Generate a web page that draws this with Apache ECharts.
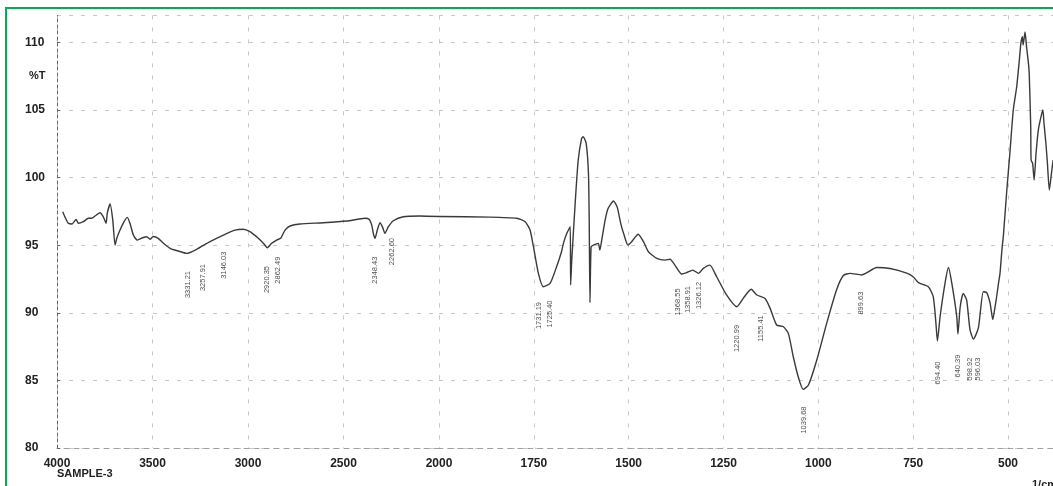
<!DOCTYPE html>
<html>
<head>
<meta charset="utf-8">
<script src="https://cdn.jsdelivr.net/npm/echarts@6/dist/echarts.min.js"></script>
<style>
html,body{margin:0;padding:0;background:#fff;}
#chart{width:1053px;height:486px;}
</style>
</head>
<body>
<div id="chart"></div>
<script>
// ---- Data (wavenumber 1/cm, %T) ----
const spectrumHigh = [[3970,97.48],[3958,97.08],[3941,96.62],[3921,96.57],[3900,96.91],[3888,96.62],[3862,96.74],[3836,96.99],[3818,96.99],[3801,97.16],[3775,97.40],[3758,97.11],[3743,96.62],[3737,97.36],[3722,98.05],[3708,96.86],[3696,95.01],[3687,95.51],[3670,96.12],[3649,96.74],[3632,97.06],[3618,96.62],[3600,95.75],[3580,95.38],[3548,95.57],[3530,95.63],[3513,95.44],[3496,95.64],[3470,95.51],[3443,95.14],[3408,94.77],[3365,94.57],[3321,94.40],[3269,94.70],[3199,95.26],[3129,95.75],[3068,96.12],[3025,96.18],[2990,96.00],[2946,95.51],[2916,95.09],[2899,94.81],[2876,95.14],[2850,95.38],[2829,95.51],[2806,96.12],[2780,96.42],[2728,96.57],[2606,96.66],[2483,96.79],[2387,96.99],[2365,96.91],[2352,96.49],[2344,95.88],[2335,95.51],[2323,96.12],[2309,96.66],[2295,96.32],[2283,95.88],[2265,96.37],[2239,96.81],[2187,97.11],[2100,97.16],[2000,97.12]];

const spectrumLow = [[2000,97.12],[1866,97.08],[1795,96.99],[1773,96.74],[1760,96.12],[1751,94.89],[1738,92.92],[1725,91.93],[1707,92.18],[1690,93.41],[1677,94.52],[1672,95.14],[1663,95.88],[1654,96.37],[1653,92.06],[1650,93.90],[1641,98.10],[1633,101.30],[1624,102.91],[1620,103.02],[1612,102.54],[1606,100.32],[1604,96.86],[1602,90.75],[1599,94.89],[1593,95.01],[1580,95.14],[1576,94.64],[1571,95.38],[1562,96.86],[1554,97.73],[1540,98.27],[1530,97.80],[1521,96.62],[1512,95.75],[1502,95.01],[1492,95.26],[1475,95.81],[1461,95.26],[1448,94.52],[1426,94.03],[1404,93.90],[1391,93.96],[1378,93.53],[1360,92.87],[1347,92.97],[1331,93.16],[1316,92.92],[1303,93.29],[1286,93.53],[1268,92.67],[1242,91.32],[1215,90.45],[1198,91.07],[1177,91.74],[1162,91.32],[1141,91.07],[1127,90.33],[1110,89.10],[1092,88.97],[1079,88.48],[1066,86.75],[1053,85.27],[1040,84.34],[1026,84.66],[1004,86.51],[978,89.22],[952,91.69],[934,92.76],[916,92.92],[886,92.80],[872,92.97],[846,93.35],[811,93.28],[767,92.94],[750,92.67],[736,92.23],[710,91.93],[697,91.19],[690,89.25],[686,87.91],[679,89.71],[666,92.18],[657,93.35],[648,92.18],[635,89.71],[632,88.43],[626,90.43],[618,91.44],[609,90.95],[600,88.73],[591,88.06],[578,88.88],[565,91.56],[556,91.50],[547,90.70],[540,89.50],[534,90.45],[530,91.17],[525,92.18],[521,92.92],[516,94.64],[512,95.75],[503,99.08],[495,101.80],[486,105.00],[477,106.72],[470,108.70],[466,109.93],[462,110.42],[460,109.81],[455,110.77],[451,109.68],[446,108.45],[444,107.71],[440,103.76],[439,101.30],[435,101.06],[431,99.82],[426,101.80],[420,103.52],[413,104.50],[408,105.00],[405,104.01],[400,102.54],[396,101.06],[391,99.08],[385,100.41],[381,101.30]];

// peak annotation texts and where they sit (wavenumber, %T of label centre)
const peakTextsHigh = ['3331.21','3257.91','3146.03','2920.35','2862.49','2348.43','2262.60'];
const peakPosHigh = [[3314,92.09],[3236,92.61],[3126,93.53],[2901,92.46],[2843,93.16],[2335,93.16],[2246,94.53]];
const peakTextsLow = ['1731.19','1725.40','1368.55','1358.91','1326.12','1220.99','1155.41','1039.68','899.63','694.40','640.39','598.92','596.03'];
const peakPosLow = [[1736,89.80],[1707,89.91],[1370,90.80],[1344,90.98],[1315,91.28],[1214,88.10],[1151,88.84],[1038,82.07],[887,90.72],[684,85.55],[632,86.06],[600,85.84],[579,85.84]];

const yTicks = {min: 80, max: 112, interval: 5};
const xHigh = {min: 2000, max: 4000, interval: 500};
const xLow = {min: 250, max: 2000, interval: 250};

// ---- Chart ----
const chart = echarts.init(document.getElementById('chart'), null, {renderer: 'canvas'});
const FONT = 'Liberation Sans, Arial, sans-serif';
const lineColor = '#3a3a3a';
const gridStyle = {color: '#c8c8c8', width: 1, type: [4, 8]};

function labelSeries(texts, pos, axisIdx) {
  return {
    type: 'scatter', xAxisIndex: axisIdx, yAxisIndex: axisIdx,
    symbolSize: 1, itemStyle: {color: 'rgba(0,0,0,0)'}, silent: true,
    data: pos.map((p, i) => ({name: texts[i], value: p})),
    label: {
      show: true, position: 'inside', rotate: 90, formatter: '{b}',
      fontSize: 7.5, fontFamily: FONT, color: '#222', align: 'center', verticalAlign: 'middle'
    }
  };
}

const plainNum = v => String(v);

const option = {
  animation: false,
  backgroundColor: '#fff',
  grid: [
    {left: 57, width: 382, top: 15.4, bottom: 38, containLabel: false, outerBoundsMode: 'none'},
    {left: 439, width: 663.8, top: 15.4, bottom: 38, containLabel: false, outerBoundsMode: 'none'}
  ],
  xAxis: [
    {
      type: 'value', gridIndex: 0, inverse: true,
      min: xHigh.min, max: xHigh.max, interval: xHigh.interval,
      axisLine: {show: true, onZero: false, lineStyle: {color: '#a0a0a0', type: [5, 5]}},
      axisTick: {show: false},
      axisLabel: {show: true, showMinLabel: false, formatter: plainNum, margin: 10, fontSize: 12, fontWeight: 'bold', color: '#222', fontFamily: FONT},
      splitLine: {show: true, lineStyle: gridStyle}
    },
    {
      type: 'value', gridIndex: 1, inverse: true,
      min: xLow.min, max: xLow.max, interval: xLow.interval,
      axisLine: {show: true, onZero: false, lineStyle: {color: '#a0a0a0', type: [5, 5]}},
      axisTick: {show: false},
      axisLabel: {show: true, formatter: plainNum, margin: 10, fontSize: 12, fontWeight: 'bold', color: '#222', fontFamily: FONT},
      splitLine: {show: true, lineStyle: gridStyle}
    }
  ],
  yAxis: [
    {
      type: 'value', gridIndex: 0, min: yTicks.min, max: yTicks.max, interval: yTicks.interval,
      axisLine: {show: true, lineStyle: {color: '#666', type: [3, 3]}},
      axisTick: {show: true, length: 3, inside: true, lineStyle: {color: '#666'}},
      axisLabel: {show: true, showMaxLabel: false, align: 'left', margin: 32, fontSize: 12, fontWeight: 'bold', color: '#222', fontFamily: FONT},
      splitLine: {show: true, lineStyle: gridStyle}
    },
    {
      type: 'value', gridIndex: 1, min: yTicks.min, max: yTicks.max, interval: yTicks.interval,
      axisLine: {show: false}, axisTick: {show: false}, axisLabel: {show: false},
      splitLine: {show: true, lineStyle: gridStyle}
    }
  ],
  series: [
    {
      type: 'line', xAxisIndex: 0, yAxisIndex: 0, data: spectrumHigh,
      showSymbol: false, smooth: 0.2, lineStyle: {color: lineColor, width: 1.4}, clip: true
    },
    {
      type: 'line', xAxisIndex: 1, yAxisIndex: 1, data: spectrumLow,
      showSymbol: false, smooth: 0.2, lineStyle: {color: lineColor, width: 1.4}, clip: true
    },
    labelSeries(peakTextsHigh, peakPosHigh, 0),
    labelSeries(peakTextsLow, peakPosLow, 1)
  ],
  graphic: [
    {type: 'rect', shape: {x: 6, y: 8, width: 1100, height: 520}, style: {fill: 'none', stroke: '#00b050', lineWidth: 2}, silent: true},
    {type: 'text', left: 29, top: 70, style: {text: '%T', fontSize: 11, fontWeight: 'bold', fill: '#222', fontFamily: FONT}},
    {type: 'text', left: 57, top: 468, style: {text: 'SAMPLE-3', fontSize: 11, fontWeight: 'bold', fill: '#222', fontFamily: FONT}},
    {type: 'text', left: 1032, top: 479, style: {text: '1/cm', fontSize: 11, fontWeight: 'bold', fill: '#222', fontFamily: FONT}}
  ]
};
chart.setOption(option);
</script>
</body>
</html>
